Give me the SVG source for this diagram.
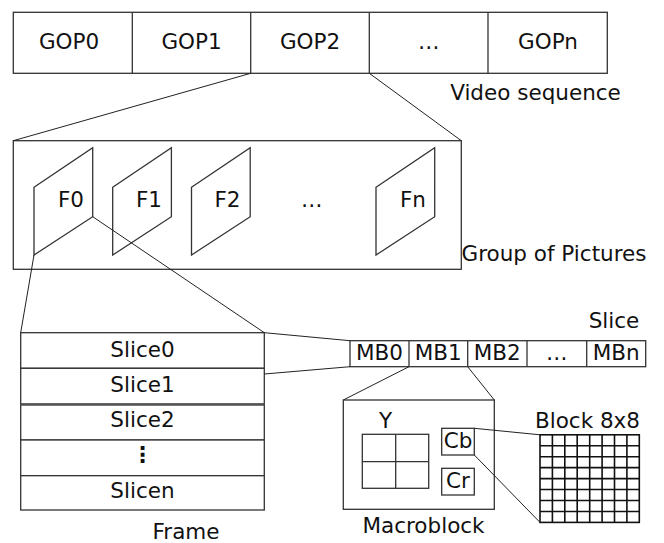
<svg xmlns="http://www.w3.org/2000/svg" width="664" height="543" viewBox="0 0 664 543">
  <style>
    .box { fill: #ffffff; stroke: #333333; stroke-width: 1.3; }
    .ln { fill: none; stroke: #222222; stroke-width: 1; }
    .grid { fill: none; stroke: #111111; stroke-width: 1.6; }
    text { font-family: "DejaVu Sans", "Liberation Sans", sans-serif; font-size: 21.5px; fill: #111111; text-anchor: middle; }
    .vdots { font-weight: bold; }
  </style>

  <!-- Video sequence: row of GOPs -->
  <g id="video-sequence">
    <rect class="box" x="13.3" y="12.3" width="594" height="61"/>
    <line class="box" x1="132.3" y1="12.3" x2="132.3" y2="73.3"/>
    <line class="box" x1="250.7" y1="12.3" x2="250.7" y2="73.3"/>
    <line class="box" x1="369.3" y1="12.3" x2="369.3" y2="73.3"/>
    <line class="box" x1="488" y1="12.3" x2="488" y2="73.3"/>
    <text x="69" y="49">GOP0</text>
    <text x="191.5" y="49">GOP1</text>
    <text x="310" y="49">GOP2</text>
    <text x="428.7" y="49">…</text>
    <text x="548" y="49">GOPn</text>
    <text x="535.5" y="99.5">Video sequence</text>
  </g>

  <!-- Group of pictures with frames -->
  <g id="group-of-pictures">
    <rect class="box" x="13.3" y="140.7" width="448" height="128.6"/>
    <polygon class="box" points="34,187.3 92.7,147.7 92.7,216.7 34,255"/>
    <polygon class="box" points="112.7,187.3 171.4,147.7 171.4,216.7 112.7,255"/>
    <polygon class="box" points="191.5,187.3 250.2,147.7 250.2,216.7 191.5,255"/>
    <polygon class="box" points="376,187.3 434.7,147.7 434.7,216.7 376,255"/>
    <text x="71" y="207.3">F0</text>
    <text x="149" y="207.3">F1</text>
    <text x="227.5" y="207.3">F2</text>
    <text x="311.7" y="207.3">…</text>
    <text x="413" y="207.3">Fn</text>
    <text x="554" y="260.7">Group of Pictures</text>
  </g>

  <!-- Frame made of slices -->
  <g id="frame">
    <rect class="box" x="20.7" y="332.7" width="243.6" height="35.6"/>
    <rect class="box" x="20.7" y="368.3" width="243.6" height="35.6"/>
    <rect class="box" x="20.7" y="405" width="243.6" height="35"/>
    <rect class="box" x="20.7" y="440" width="243.6" height="35.7"/>
    <rect class="box" x="20.7" y="475.7" width="243.6" height="34.3"/>
    <text x="142.5" y="356.7">Slice0</text>
    <text x="142.5" y="391.7">Slice1</text>
    <text x="142.5" y="426.7">Slice2</text>
    <text class="vdots" x="142.5" y="462">⋮</text>
    <text x="142.5" y="498">Slicen</text>
    <text x="186" y="539">Frame</text>
  </g>

  <!-- Slice made of macroblocks -->
  <g id="slice">
    <rect class="box" x="350" y="340.7" width="295.7" height="26"/>
    <line class="box" x1="409" y1="340.7" x2="409" y2="366.7"/>
    <line class="box" x1="467.7" y1="340.7" x2="467.7" y2="366.7"/>
    <line class="box" x1="527" y1="340.7" x2="527" y2="366.7"/>
    <line class="box" x1="586.7" y1="340.7" x2="586.7" y2="366.7"/>
    <text x="379.5" y="360">MB0</text>
    <text x="438.3" y="360">MB1</text>
    <text x="497.3" y="360">MB2</text>
    <text x="556.8" y="360">…</text>
    <text x="616.2" y="360">MBn</text>
    <text x="614" y="328">Slice</text>
  </g>

  <!-- Macroblock: Y, Cb, Cr -->
  <g id="macroblock">
    <rect class="box" x="343.3" y="400" width="151" height="109.3"/>
    <rect class="box" x="362.3" y="434.3" width="66.4" height="54"/>
    <line class="box" x1="395.7" y1="434.3" x2="395.7" y2="488.3"/>
    <line class="box" x1="362.3" y1="461.7" x2="428.7" y2="461.7"/>
    <rect class="box" x="441.7" y="428.3" width="32.6" height="26.7"/>
    <rect class="box" x="441.7" y="468.3" width="32.6" height="26.7"/>
    <text x="385.5" y="428">Y</text>
    <text x="458" y="448.3">Cb</text>
    <text x="458" y="488.3">Cr</text>
    <text x="423.5" y="533">Macroblock</text>
  </g>

  <!-- 8x8 block grid -->
  <g id="block">
    <rect class="grid" x="540" y="434.8" width="99.3" height="87.6"/>
    <path class="grid" d="M552.4 434.8V522.4M564.8 434.8V522.4M577.2 434.8V522.4M589.7 434.8V522.4M602.1 434.8V522.4M614.5 434.8V522.4M626.9 434.8V522.4
             M540 445.75H639.3M540 456.7H639.3M540 467.65H639.3M540 478.6H639.3M540 489.55H639.3M540 500.5H639.3M540 511.45H639.3"/>
    <text x="587.5" y="428">Block 8x8</text>
  </g>

  <!-- Zoom-in connectors -->
  <g id="connectors">
    <line class="ln" x1="250.7" y1="73.3" x2="13.3" y2="140.7"/>
    <line class="ln" x1="369.3" y1="73.3" x2="461.3" y2="140.7"/>
    <line class="ln" x1="34" y1="255" x2="20.7" y2="332.7"/>
    <line class="ln" x1="92.7" y1="216.7" x2="264.3" y2="332.7"/>
    <line class="ln" x1="264.3" y1="332.7" x2="350" y2="340.7"/>
    <line class="ln" x1="264.3" y1="374" x2="350" y2="366.7"/>
    <line class="ln" x1="409" y1="366.7" x2="343.3" y2="400"/>
    <line class="ln" x1="467.7" y1="366.7" x2="494.3" y2="400"/>
    <line class="ln" x1="474.3" y1="428.3" x2="540" y2="434.8"/>
    <line class="ln" x1="474.3" y1="455" x2="540" y2="522.4"/>
  </g>
</svg>
